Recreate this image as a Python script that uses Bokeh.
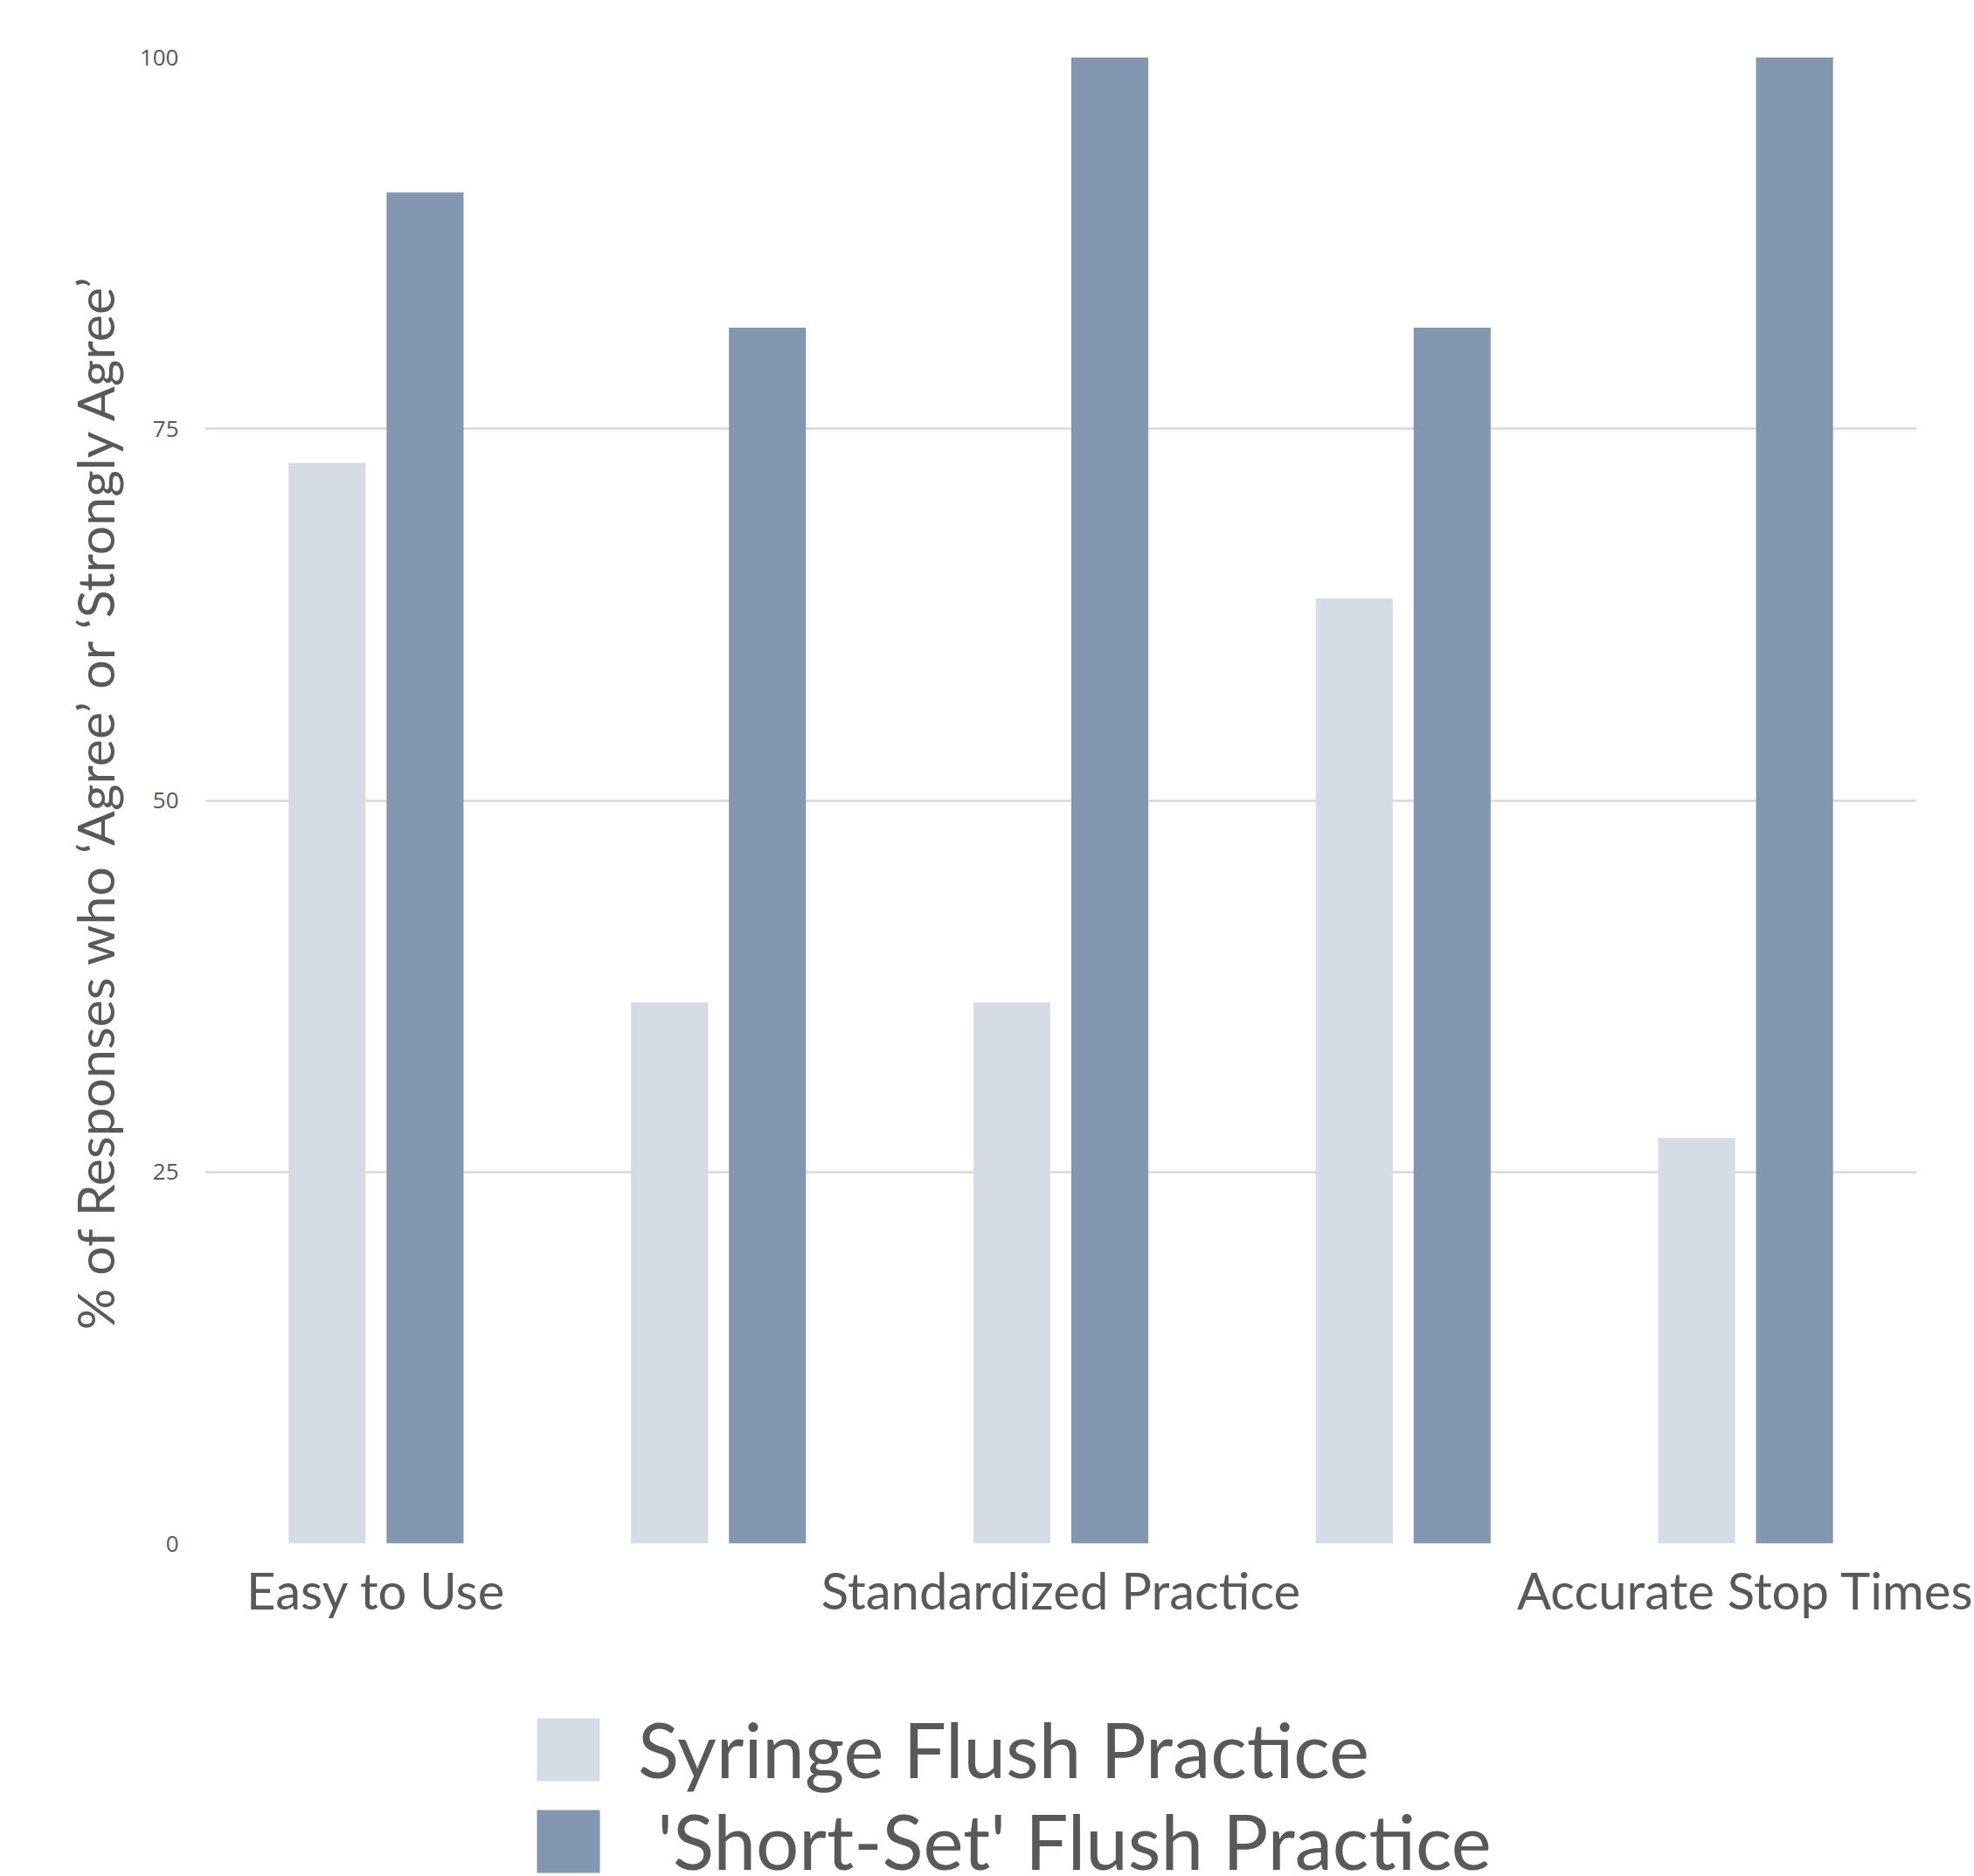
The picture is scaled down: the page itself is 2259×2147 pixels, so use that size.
from bokeh.plotting import figure
from bokeh.layouts import column
from bokeh.models import FixedTicker, Legend, LegendItem, ColumnDataSource
from bokeh.transform import dodge
from bokeh.embed import file_html
from bokeh.resources import INLINE

# ---- data ----
categories = ["Easy to Use", "", "Standardized Practice", "", "Accurate Stop Times"]
syringe = [72.7, 36.4, 36.4, 63.6, 27.3]
short_set = [90.9, 81.8, 100.0, 81.8, 100.0]
series_names = ["Syringe Flush Practice", " 'Short-Set' Flush Practice"]
y_ticks = [0, 25, 50, 75, 100]
y_title = "% of Responses who \u2018Agree\u2019 or \u2018Strongly Agree\u2019"
colors = ["#D6DCE5", "#8497B0"]
text_color = "#595959"

W = 2259
MAIN_H = 1900
LEG_H = 247

p = figure(width=W, height=MAIN_H, x_range=(0, len(categories)), y_range=(0, 100),
           output_backend="svg", toolbar_location=None,
           min_border_left=234, min_border_right=66, min_border_top=65,
           min_border_bottom=MAIN_H - 1766)
p.outline_line_color = None
p.background_fill_color = "white"
p.border_fill_color = "white"

centers = [i + 0.5 for i in range(len(categories))]
src = ColumnDataSource(dict(x=centers, syringe=syringe, short=short_set))
off = 0.143
bw = 0.225
bar_kw = [dict(x=dodge('x', -off), top='syringe', fill_color=colors[0]),
          dict(x=dodge('x', off), top='short', fill_color=colors[1])]
r1 = p.vbar(bottom=0, width=bw, source=src, line_color=None, **bar_kw[0])
r2 = p.vbar(bottom=0, width=bw, source=src, line_color=None, **bar_kw[1])

# grid
p.xgrid.visible = False
p.ygrid.ticker = FixedTicker(ticks=y_ticks)
p.ygrid.grid_line_color = "#D9D9D9"
p.ygrid.grid_line_width = 2.5

# y axis
p.yaxis.ticker = FixedTicker(ticks=y_ticks)
p.yaxis.axis_line_color = None
p.yaxis.major_tick_line_color = None
p.yaxis.minor_tick_line_color = None
p.yaxis.major_tick_out = 0
p.yaxis.major_label_standoff = 30
p.yaxis.major_label_text_font = "Open Sans"
p.yaxis.major_label_text_font_size = "26px"
p.yaxis.major_label_text_color = text_color
p.yaxis.axis_label = y_title
p.yaxis.axis_label_text_font = "Lato"
p.yaxis.axis_label_text_font_size = "59px"
p.yaxis.axis_label_text_font_style = "normal"
p.yaxis.axis_label_text_color = text_color
p.yaxis.axis_label_standoff = 13

# x axis
p.xaxis.ticker = FixedTicker(ticks=centers)
p.xaxis.major_label_overrides = {c: name for c, name in zip(centers, categories)}
p.xaxis.axis_line_color = None
p.xaxis.major_tick_line_color = None
p.xaxis.minor_tick_line_color = None
p.xaxis.major_tick_out = 0
p.xaxis.major_label_standoff = 18
p.xaxis.major_label_text_font = "Lato"
p.xaxis.major_label_text_font_size = "58px"
p.xaxis.major_label_text_color = text_color

# ---- legend strip below the chart (same series as zero-width bars, so only the legend shows) ----
lf = figure(width=W, height=LEG_H, x_range=(0, len(categories)), y_range=(0, 100),
            output_backend="svg", toolbar_location=None,
            x_axis_type=None, y_axis_type=None,
            min_border_left=0, min_border_right=0,
            min_border_top=0, min_border_bottom=0)
lf.outline_line_color = None
lf.xgrid.visible = False
lf.ygrid.visible = False
lf.background_fill_color = "white"
lf.border_fill_color = "white"
l1 = lf.vbar(bottom=0, width=0, source=src, line_color=None, **bar_kw[0])
l2 = lf.vbar(bottom=0, width=0, source=src, line_color=None, **bar_kw[1])

legend = Legend(items=[LegendItem(label=series_names[0], renderers=[l1]),
                       LegendItem(label=series_names[1], renderers=[l2])],
                location=(371, -12), orientation="vertical",
                glyph_width=90, glyph_height=90,
                label_text_font="Lato", label_text_font_size="87px",
                label_text_color=text_color, label_standoff=35,
                spacing=-16, padding=0, margin=0,
                border_line_color=None, background_fill_alpha=0)
lf.add_layout(legend, "center")

layout = column(p, lf, spacing=0)
open("out.html", "w").write(file_html(layout, INLINE))
